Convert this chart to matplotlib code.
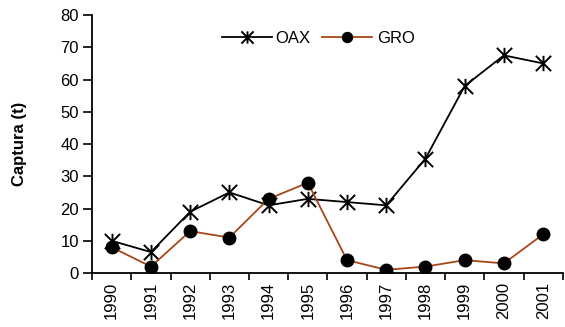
import numpy as np
import matplotlib.pyplot as plt
from matplotlib.path import Path
from matplotlib.ticker import FixedLocator

plt.rcParams['font.family'] = ['Liberation Sans', 'DejaVu Sans']

# ── Data ──
years = ["1990", "1991", "1992", "1993", "1994", "1995",
         "1996", "1997", "1998", "1999", "2000", "2001"]
oax = [10, 6.5, 19, 25, 21, 23, 22, 21, 35.5, 58, 67.5, 65]
gro = [8, 2, 13, 11, 23, 28, 4, 1, 2, 4, 3, 12]

# Excel-style star: an X with a vertical bar through it
star = Path([(-1, -1), (1, 1), (-1, 1), (1, -1), (0, -1), (0, 1)],
            [Path.MOVETO, Path.LINETO, Path.MOVETO, Path.LINETO,
             Path.MOVETO, Path.LINETO])

fig = plt.figure(figsize=(5.65, 3.27), dpi=100)
ax = fig.add_axes([0.163, 0.165, 0.833, 0.789])

x = np.arange(len(years))
ax.plot(x, oax, color="black", lw=1.3, marker=star, ms=11, mew=1.4,
        label="OAX")
ax.plot(x, gro, color="#A8461A", lw=1.3, marker="o", ms=9,
        mfc="black", mec="black", label="GRO")

ax.set_xlim(-0.5, len(years) - 0.5)
ax.set_ylim(0, 80)
ax.set_yticks(range(0, 81, 10))
ax.set_xticks(x)
ax.set_xticklabels(years, rotation=90, fontsize=12)
ax.xaxis.set_minor_locator(FixedLocator(np.arange(-0.5, len(years), 1.0)))
ax.tick_params(axis="x", which="major", length=0, pad=6)
ax.tick_params(axis="x", which="minor", length=5, width=1.2, direction="out")
ax.tick_params(axis="y", length=6.5, width=1.2, labelsize=12, pad=3)

for s in ["top", "right"]:
    ax.spines[s].set_visible(False)
for s in ["left", "bottom"]:
    ax.spines[s].set_linewidth(1.3)

ax.set_ylabel("Captura (t)", fontsize=12, fontweight="bold", labelpad=24)

ax.legend(loc="upper center", bbox_to_anchor=(0.48, 0.995), ncol=2,
          frameon=False, fontsize=12, handlelength=3, handletextpad=0.25,
          columnspacing=0.7, markerscale=0.8)

fig.savefig("out.png", dpi=100)
